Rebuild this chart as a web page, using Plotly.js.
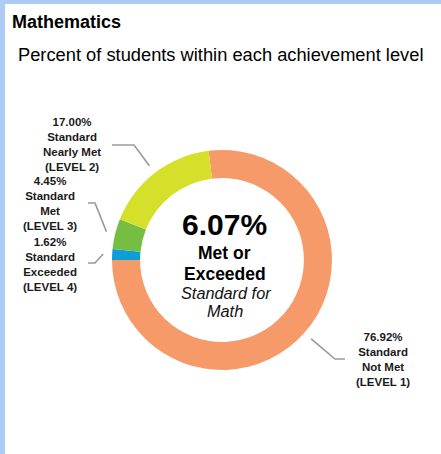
<!DOCTYPE html>
<html>
<head>
<meta charset="utf-8">
<script src="https://cdn.plot.ly/plotly-3.0.1.min.js"></script>
<style>
  html, body { margin: 0; padding: 0; background: #ffffff; }
  #chart { width: 441px; height: 454px; }
</style>
</head>
<body>
<div id="chart"></div>
<script>
// ---- data ----
const categories = ['Standard Not Met', 'Standard Exceeded', 'Standard Met', 'Standard Nearly Met'];
const levels = ['(LEVEL 1)', '(LEVEL 4)', '(LEVEL 3)', '(LEVEL 2)'];
const values = [76.92, 1.62, 4.45, 17.00];
const colors = ['#f69a6a', '#0d9ed8', '#76bd43', '#d5e02b'];
const chartTitle = 'Mathematics';
const chartSubtitle = 'Percent of students within each achievement level';
const centerLines = ['Met or', 'Exceeded', 'Standard for', 'Math'];

// ---- layout constants (pixels) ----
const W = 441, H = 454;
const CX = 222, CY = 260, R = 110;
const HOLE = 0.745;
const ROT = -7;
const FONT = 'Liberation Sans, Arial, sans-serif';
const px = x => x / W;
const py = y => 1 - y / H;

// label placement (layout): center of text block, elbow of leader, end of leader
const labelPlace = [
  { lx: 383, ly: 359, ex: 335, ey: 359, endX: 345 },   // LEVEL 1
  { lx: 50,  ly: 264, ex: 95,  ey: 263, endX: 88 },    // LEVEL 4
  { lx: 50,  ly: 204, ex: 95,  ey: 203, endX: 88 },    // LEVEL 3
  { lx: 72,  ly: 144, ex: 134, ey: 145, endX: 112 }    // LEVEL 2
];

const total = values.reduce((a, b) => a + b, 0);
const shapes = [
  { type: 'rect', xref: 'paper', yref: 'paper', x0: 0, x1: 1, y0: py(4), y1: 1,
    fillcolor: '#aecbf6', line: { width: 0 }, layer: 'below' },
  { type: 'rect', xref: 'paper', yref: 'paper', x0: 0, x1: px(5), y0: 0, y1: 1,
    fillcolor: '#aecbf6', line: { width: 0 }, layer: 'below' }
];
const annotations = [];

let cum = 0;
values.forEach((v, i) => {
  const mid = (ROT + (cum + v / 2) / total * 360) * Math.PI / 180;
  cum += v;
  const rr = R + 9;
  const sx = CX + rr * Math.sin(mid);
  const sy = CY - rr * Math.cos(mid);
  const p = labelPlace[i];
  shapes.push({
    type: 'path', xref: 'paper', yref: 'paper',
    path: `M ${px(sx)} ${py(sy)} L ${px(p.ex)} ${py(p.ey)} L ${px(p.endX)} ${py(p.ey)}`,
    line: { color: '#9a9a9a', width: 1.6 }
  });
  const words = categories[i].split(' ');
  const text = v.toFixed(2) + '%<br>' + words[0] + '<br>' + words.slice(1).join(' ') + '<br>' + levels[i];
  annotations.push({
    xref: 'paper', yref: 'paper', x: px(p.lx), y: py(p.ly),
    xanchor: 'center', yanchor: 'middle', showarrow: false, align: 'center', borderpad: 0,
    text: text, font: { family: FONT, size: 11.5, color: '#1a1a1a', weight: 'bold' }
  });
});

const metOrExceeded = values[1] + values[2];

annotations.push(
  { xref: 'paper', yref: 'paper', x: px(10), y: py(22), xanchor: 'left', yanchor: 'middle',
    showarrow: false, text: '<b>' + chartTitle + '</b>', font: { family: FONT, size: 18, color: '#000' } },
  { xref: 'paper', yref: 'paper', x: px(16), y: py(54), xanchor: 'left', yanchor: 'middle',
    showarrow: false, text: chartSubtitle, font: { family: FONT, size: 18.3, color: '#000' } },
  { xref: 'paper', yref: 'paper', x: px(224), y: py(224), xanchor: 'center', yanchor: 'middle',
    showarrow: false, text: '<b>' + metOrExceeded.toFixed(2) + '%</b>', font: { family: FONT, size: 30, color: '#000' } },
  { xref: 'paper', yref: 'paper', x: px(224), y: py(253), xanchor: 'center', yanchor: 'middle',
    showarrow: false, text: '<b>' + centerLines[0] + '</b>', font: { family: FONT, size: 17.5, color: '#000' } },
  { xref: 'paper', yref: 'paper', x: px(225), y: py(274), xanchor: 'center', yanchor: 'middle',
    showarrow: false, text: '<b>' + centerLines[1] + '</b>', font: { family: FONT, size: 17.5, color: '#000' } },
  { xref: 'paper', yref: 'paper', x: px(226), y: py(293), xanchor: 'center', yanchor: 'middle',
    showarrow: false, text: '<i>' + centerLines[2] + '</i>', font: { family: FONT, size: 16.3, color: '#111' } },
  { xref: 'paper', yref: 'paper', x: px(225), y: py(311), xanchor: 'center', yanchor: 'middle',
    showarrow: false, text: '<i>' + centerLines[3] + '</i>', font: { family: FONT, size: 16.3, color: '#111' } }
);

const trace = {
  type: 'pie',
  labels: categories,
  values: values,
  marker: { colors: colors, line: { width: 0 } },
  hole: HOLE,
  sort: false,
  direction: 'clockwise',
  rotation: ROT,
  textinfo: 'none',
  hoverinfo: 'label+percent',
  showlegend: false,
  domain: { x: [px(CX - R), px(CX + R)], y: [py(CY + R), py(CY - R)] }
};

const layout = {
  width: W, height: H,
  margin: { l: 0, r: 0, t: 0, b: 0 },
  paper_bgcolor: '#ffffff',
  plot_bgcolor: '#ffffff',
  showlegend: false,
  shapes: shapes,
  annotations: annotations,
  font: { family: FONT }
};

Plotly.newPlot('chart', [trace], layout, { displayModeBar: false, staticPlot: true });
</script>
</body>
</html>
